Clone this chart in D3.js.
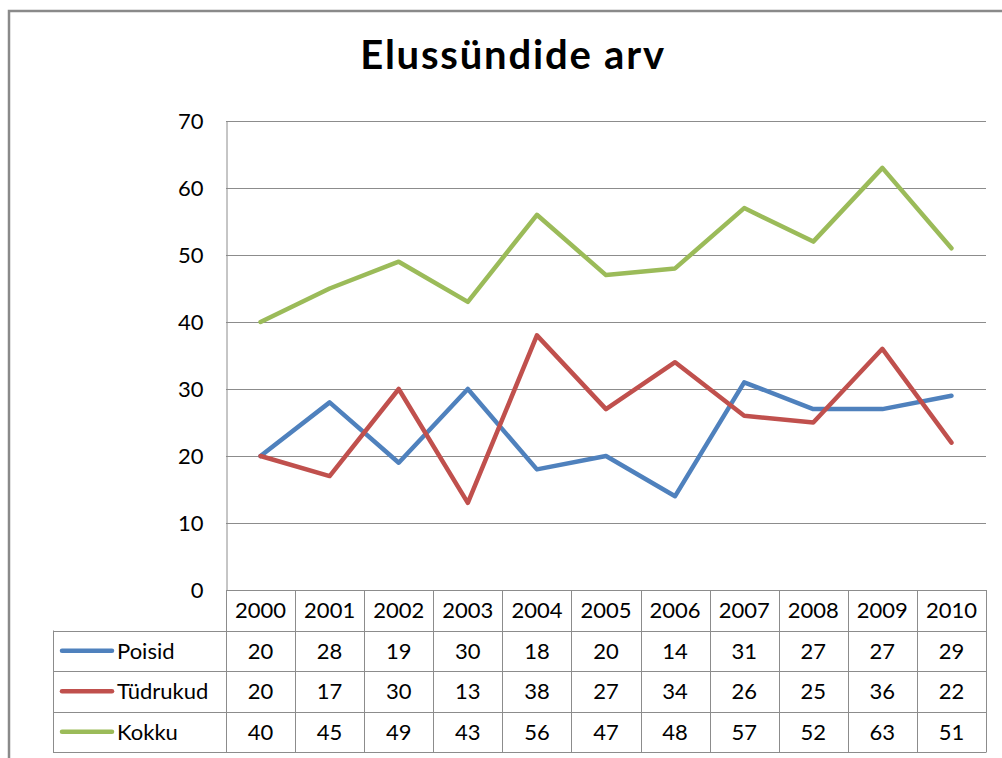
<!DOCTYPE html>
<html><head><meta charset="utf-8">
<script src="https://cdn.jsdelivr.net/npm/d3@7"></script>
<style>html,body{margin:0;padding:0;background:#fff;}svg{display:block;}</style>
</head><body>
<script>
const years = ["2000","2001","2002","2003","2004","2005","2006","2007","2008","2009","2010"];
const poisid = [20,28,19,30,18,20,14,31,27,27,29];
const tydrukud = [20,17,30,13,38,27,34,26,25,36,22];
const kokku = [40,45,49,43,56,47,48,57,52,63,51];
const seriesNames = ["Poisid","Tüdrukud","Kokku"];
const seriesColors = ["#4F81BD","#C0504D","#9BBB59"];
const yTicks = [0,10,20,30,40,50,60,70];
const title = "Elussündide arv";

const series = [poisid, tydrukud, kokku].map((v,i)=>({name:seriesNames[i], color:seriesColors[i], values:v}));

const W=1002,H=758;
const FONT = "Lato, 'Open Sans', sans-serif";
const FS = 22;
const svg = d3.select("body").append("svg").attr("width",W).attr("height",H);

// outer chart border
svg.append("rect").attr("x",9).attr("y",11).attr("width",1100).attr("height",900)
  .attr("fill","#fff").attr("stroke","#8a8a8a").attr("stroke-width",2.5);

const x = d3.scaleBand().domain(years).range([226,986]);
const y = d3.scaleLinear().domain([0,70]).range([590,121]);
const rows = d3.scaleBand().domain(["hdr"].concat(seriesNames)).range([590,752]);
const gridColor = "#8c8c8c";

// title
svg.append("text").attr("x",513).attr("y",69).attr("text-anchor","middle")
  .attr("font-family",FONT).attr("font-weight","bold").attr("font-size",40)
  .attr("letter-spacing",1.8).attr("fill","#000").text(title);

// gridlines
svg.append("g").selectAll("line").data(yTicks.filter(t=>t>0)).join("line")
  .attr("x1",226).attr("x2",986).attr("y1",d=>Math.round(y(d))+0.5).attr("y2",d=>Math.round(y(d))+0.5)
  .attr("stroke",gridColor).attr("stroke-width",1);

// y axis
const yAxis = d3.axisLeft(y).tickValues(yTicks).tickSize(0).tickPadding(23);
const ya = svg.append("g").attr("transform","translate(226.5,0)").call(yAxis);
ya.select(".domain").attr("stroke",gridColor);
ya.selectAll("text").attr("font-family",FONT).attr("font-size",FS).attr("fill","#000").attr("dy","0.35em");

// data table
const tbl = svg.append("g");
const x0 = 53;
tbl.append("line").attr("x1",226).attr("x2",986).attr("y1",590.5).attr("y2",590.5).attr("stroke",gridColor);
seriesNames.forEach(n=>{
  tbl.append("line").attr("x1",x0).attr("x2",986).attr("y1",Math.round(rows(n))+0.5).attr("y2",Math.round(rows(n))+0.5).attr("stroke",gridColor);
});
tbl.append("line").attr("x1",x0).attr("x2",986).attr("y1",752.5).attr("y2",752.5).attr("stroke",gridColor);
tbl.selectAll("line.v").data(years).join("line").attr("class","v")
  .attr("x1",d=>Math.round(x(d)+x.bandwidth())+0.5).attr("x2",d=>Math.round(x(d)+x.bandwidth())+0.5)
  .attr("y1",590).attr("y2",752.5).attr("stroke",gridColor);
tbl.append("line").attr("x1",226.5).attr("x2",226.5).attr("y1",590).attr("y2",752.5).attr("stroke",gridColor);
tbl.append("line").attr("x1",x0+0.5).attr("x2",x0+0.5).attr("y1",rows("Poisid")).attr("y2",752.5).attr("stroke",gridColor);

// header years
tbl.selectAll("text.yr").data(years).join("text").attr("class","yr")
  .attr("x",d=>x(d)+x.bandwidth()/2).attr("y",rows("hdr")+rows.bandwidth()/2+8)
  .attr("text-anchor","middle").attr("font-family",FONT).attr("font-size",FS).attr("fill","#000").text(d=>d);

// series rows
series.forEach(s=>{
  const cy = rows(s.name)+rows.bandwidth()/2;
  tbl.append("line").attr("x1",62).attr("x2",112).attr("y1",cy).attr("y2",cy)
    .attr("stroke",s.color).attr("stroke-width",4.5).attr("stroke-linecap","round");
  tbl.append("text").attr("x",117).attr("y",cy+8).attr("font-family",FONT).attr("font-size",FS).attr("fill","#000").text(s.name);
  tbl.selectAll(null).data(s.values).join("text")
    .attr("x",(d,i)=>x(years[i])+x.bandwidth()/2).attr("y",cy+8)
    .attr("text-anchor","middle").attr("font-family",FONT).attr("font-size",FS).attr("fill","#000").text(d=>d);
});

// lines
const line = d3.line().x((d,i)=>x(years[i])+x.bandwidth()/2).y(d=>y(d));
svg.append("g").selectAll("path").data(series).join("path")
  .attr("d",d=>line(d.values)).attr("fill","none").attr("stroke",d=>d.color)
  .attr("stroke-width",4.5).attr("stroke-linejoin","round").attr("stroke-linecap","round");
</script>
</body></html>
